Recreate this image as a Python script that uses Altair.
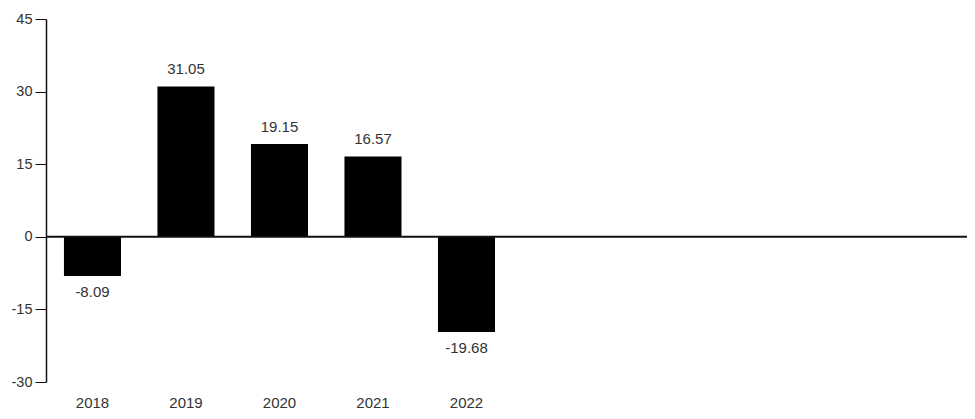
import altair as alt
import pandas as pd

years = ["2018", "2019", "2020", "2021", "2022"]
values = [-8.09, 31.05, 19.15, 16.57, -19.68]
empty_slots = [" ", "  ", "   ", "    ", "     "]
x_domain = years + empty_slots
y_ticks = [-30, -15, 0, 15, 30, 45]

df = pd.DataFrame({
    "year": years,
    "value": values,
    "label": [f"{v:.2f}" for v in values],
})

FONT = "Liberation Sans"
FS = 15

x_enc = alt.X(
    "year:N",
    scale=alt.Scale(domain=x_domain, paddingInner=0.39, paddingOuter=0.12, align=0.8),
    axis=alt.Axis(title=None, labelAngle=0, domain=False, ticks=False, tickSize=0,
                  labelPadding=13, labelFontSize=FS, labelColor="#333", labelFont=FONT),
)
y_enc = alt.Y(
    "value:Q",
    scale=alt.Scale(domain=[-30, 45], nice=False, zero=False),
    axis=alt.Axis(title=None, values=y_ticks, grid=False, tickSize=11, labelPadding=3,
                  labelFontSize=14.5, labelColor="#333", labelFont=FONT,
                  labelExpr="replace(datum.label, '\u2212', '-')",
                  domainColor="#111", tickColor="#111", domainWidth=1.5, tickWidth=1),
)

base = alt.Chart(df)
bars = base.mark_bar(color="black").encode(x=x_enc, y=y_enc)
pos_text = base.transform_filter("datum.value >= 0").mark_text(
    baseline="alphabetic", dy=-12.5, fontSize=FS, color="#333", font=FONT
).encode(x=x_enc, y=y_enc, text="label:N")
neg_text = base.transform_filter("datum.value < 0").mark_text(
    baseline="alphabetic", dy=21, fontSize=FS, color="#333", font=FONT
).encode(x=x_enc, y=y_enc, text="label:N")
zero = alt.Chart(pd.DataFrame({"z": [0]})).mark_rule(color="#111", strokeWidth=2).encode(y="z:Q")

chart = alt.layer(bars, zero, pos_text, neg_text).properties(
    width=921, height=363,
    autosize=alt.AutoSizeParams(type="none"),
    padding={"left": 38, "top": 11, "right": 0, "bottom": 29},
).configure_view(stroke=None)

chart.save("out.html", embed_options={"renderer": "svg", "actions": False})
